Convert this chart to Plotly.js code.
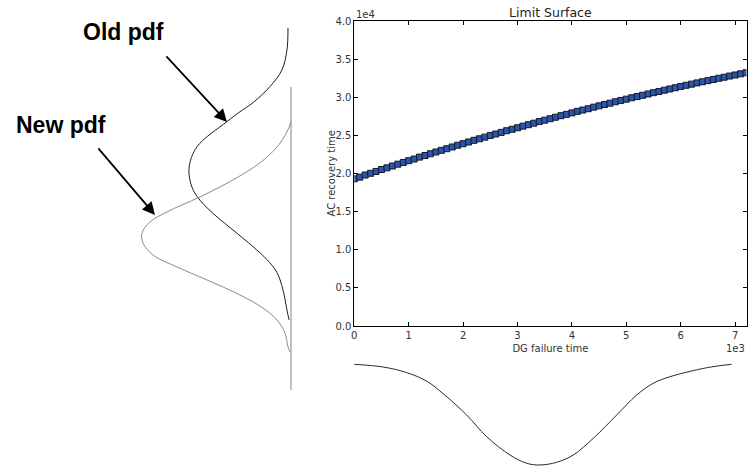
<!DOCTYPE html>
<html>
<head>
<meta charset="utf-8">
<script src="https://cdn.plot.ly/plotly-3.0.1.min.js"></script>
<style>
html,body{margin:0;padding:0;background:#fff;}
#chart{width:748px;height:468px;}
</style>
</head>
<body>
<div id="chart"></div>
<script>
// ---- Limit surface samples (DG failure time vs AC recovery time) ----
var dgFailureTime = [0,100,200,300,400,500,600,700,800,900,1000,1100,1200,1300,1400,1500,1600,1700,1800,1900,
  2000,2100,2200,2300,2400,2500,2600,2700,2800,2900,3000,3100,3200,3300,3400,3500,3600,3700,3800,3900,
  4000,4100,4200,4300,4400,4500,4600,4700,4800,4900,5000,5100,5200,5300,5400,5500,5600,5700,5800,5900,
  6000,6100,6200,6300,6400,6500,6600,6700,6800,6900,7000,7100,7200];
var acRecoveryTime = [19300,19520,19800,20030,20270,20520,20740,20980,21220,21450,21680,21900,22150,22360,22590,22820,23040,23250,23480,23710,
  23910,24130,24350,24550,24770,24990,25180,25390,25610,25800,26000,26210,26400,26600,26810,26990,27190,27380,27580,27760,
  27950,28150,28320,28500,28700,28870,29050,29220,29410,29580,29750,29930,30090,30260,30430,30600,30760,30930,31090,31250,
  31410,31570,31720,31880,32030,32180,32330,32490,32630,32780,32920,33070,33210];

// ---- Sketched pdfs ----
// Left: pdfs of AC recovery time (density grows to the left)
var oldPdfTime = [39100,36200,33600,31400,29300,28100,26800,23500,20700,18200,16500,14300,12600,10400,8700,7000,4700,2100,800];
var oldPdfDens = [0.02,0.027,0.06,0.14,0.253,0.34,0.427,0.627,0.68,0.66,0.607,0.493,0.387,0.253,0.16,0.093,0.053,0.027,0.013];
var newPdfTime = [26770,25460,23490,21390,19160,16930,14960,13650,12200,10890,9320,7740,6040,4070,2360,790,-920,-2760,-3410];
var newPdfDens = [0,0.027,0.093,0.207,0.387,0.607,0.827,0.94,0.993,0.987,0.92,0.76,0.56,0.34,0.187,0.093,0.04,0.02,0.007];
var pdfBaseTime = [31370,-8400];
var pdfBaseDens = [0,0];
// Bottom: pdf of DG failure time (density grows downward)
var dgPdfTime = [0,533,963,1331,1636,2066,2434,2862,3169,3414,3721,4026,4393,4824,5191,5496,5803,6478,6938];
var dgPdfDens = [0.003,0.03,0.085,0.17,0.295,0.505,0.72,0.901,0.983,1.0,0.973,0.901,0.736,0.505,0.307,0.191,0.126,0.037,0.003];

// tick labels
var xTickVals = [0,1000,2000,3000,4000,5000,6000,7000];
var xTickText = ['0','1','2','3','4','5','6','7'];
var yTickVals = [0,5000,10000,15000,20000,25000,30000,35000,40000];
var yTickText = ['0.0','0.5','1.0','1.5','2.0','2.5','3.0','3.5','4.0'];

var W = 748, H = 468;
// main plot box in pixels
var pl = 354.3, pr = 746.5, pt = 21, pb = 326;
var xMax = 7210, yMax = 40000;
var xs = (pr - pl) / xMax, ys = (pb - pt) / yMax;

var font = 'DejaVu Sans, sans-serif';

var traces = [
  {x: dgFailureTime, y: acRecoveryTime, type: 'scatter', mode: 'markers', xaxis: 'x', yaxis: 'y',
   marker: {symbol: 'square', size: 6, color: '#2c56aa', line: {width: 1, color: '#15182a'}}},
  {x: oldPdfDens, y: oldPdfTime, type: 'scatter', mode: 'lines', xaxis: 'x2', yaxis: 'y2',
   line: {color: '#1e1e1e', width: 1, shape: 'spline', smoothing: 1}},
  {x: newPdfDens, y: newPdfTime, type: 'scatter', mode: 'lines', xaxis: 'x2', yaxis: 'y2',
   line: {color: '#8a8a8a', width: 1, shape: 'spline', smoothing: 1}},
  {x: pdfBaseDens, y: pdfBaseTime, type: 'scatter', mode: 'lines', xaxis: 'x2', yaxis: 'y2',
   line: {color: '#808080', width: 1}},
  {x: dgPdfTime, y: dgPdfDens, type: 'scatter', mode: 'lines', xaxis: 'x3', yaxis: 'y3',
   line: {color: '#2a2a2a', width: 1, shape: 'spline', smoothing: 1}}
];

// decoration axes share the main scales
var leftBase = 291, leftUnit = 150;   // density 0 at x=291px, 1 at 150px to the left
var botBase = 364, botUnit = 101;     // density 0 at y=364px, 1 at 101px lower

var layout = {
  width: W, height: H,
  margin: {l: 0, r: 0, t: 0, b: 0},
  paper_bgcolor: '#fff', plot_bgcolor: 'rgba(0,0,0,0)',
  showlegend: false,
  font: {family: font, size: 10, color: '#333'},
  title: {text: 'Limit Surface', x: (pl + pr) / 2 / W, xanchor: 'center', y: 1 - 12.5 / H, yanchor: 'middle',
          font: {family: font, size: 12.5, color: '#222'}},
  xaxis: {domain: [pl / W, pr / W], range: [0, xMax], anchor: 'y',
          tickvals: xTickVals, ticktext: xTickText, ticks: 'inside', ticklen: 4, tickcolor: '#000',
          showline: true, linecolor: '#000', linewidth: 1, mirror: 'allticks', showgrid: false, zeroline: false,
          tickfont: {family: font, size: 10, color: '#333'},
          title: {text: 'DG failure time', standoff: 4, font: {family: font, size: 10, color: '#333'}}},
  yaxis: {domain: [(H - pb) / H, (H - pt) / H], range: [0, yMax], anchor: 'x',
          tickvals: yTickVals, ticktext: yTickText, ticks: 'inside', ticklen: 4, tickcolor: '#000',
          showline: true, linecolor: '#000', linewidth: 1, mirror: 'allticks', showgrid: false, zeroline: false,
          tickfont: {family: font, size: 10, color: '#333'}},
  xaxis2: {domain: [0, 1], anchor: 'y2', range: [leftBase / leftUnit, (leftBase - W) / leftUnit], visible: false, fixedrange: true},
  yaxis2: {domain: [0, 1], anchor: 'x2', range: [-(H - pb) / ys, pb / ys], visible: false, fixedrange: true},
  xaxis3: {domain: [0, 1], anchor: 'y3', range: [-pl / xs, (W - pl) / xs], visible: false, fixedrange: true},
  yaxis3: {domain: [0, 1], anchor: 'x3', range: [(H - botBase) / botUnit, -botBase / botUnit], visible: false, fixedrange: true},
  annotations: [
    {text: 'AC recovery time', xref: 'paper', yref: 'paper', x: 331 / W, y: 1 - (pt + pb) / 2 / H,
     xanchor: 'center', yanchor: 'middle', textangle: -90, showarrow: false,
     font: {family: font, size: 10, color: '#333'}},
    {text: '1e4', xref: 'paper', yref: 'paper', x: 354 / W, y: 1 - 14 / H, xanchor: 'left', yanchor: 'middle',
     showarrow: false, font: {family: font, size: 10, color: '#333'}},
    {text: '1e3', xref: 'paper', yref: 'paper', x: 747 / W, y: 1 - 348 / H, xanchor: 'right', yanchor: 'middle',
     showarrow: false, font: {family: font, size: 10, color: '#333'}},
    {text: '<b>Old pdf</b>', xref: 'x2', yref: 'y2', x: 1.12, y: 38580, showarrow: false,
     font: {family: 'Liberation Sans, Arial, sans-serif', size: 23, color: '#000'}},
    {text: '<b>New pdf</b>', xref: 'x2', yref: 'y2', x: 1.533, y: 26380, showarrow: false,
     font: {family: 'Liberation Sans, Arial, sans-serif', size: 23, color: '#000'}},
    {text: '', xref: 'x2', yref: 'y2', x: 0.427, y: 26770, axref: 'x2', ayref: 'y2', ax: 0.84, ay: 35560,
     showarrow: true, arrowhead: 2, arrowsize: 1.4, arrowwidth: 1.8, arrowcolor: '#000'},
    {text: '', xref: 'x2', yref: 'y2', x: 0.907, y: 14570, axref: 'x2', ayref: 'y2', ax: 1.293, ay: 23490,
     showarrow: true, arrowhead: 2, arrowsize: 1.4, arrowwidth: 1.8, arrowcolor: '#000'}
  ]
};

Plotly.newPlot('chart', traces, layout, {staticPlot: true, displayModeBar: false});
</script>
</body>
</html>
